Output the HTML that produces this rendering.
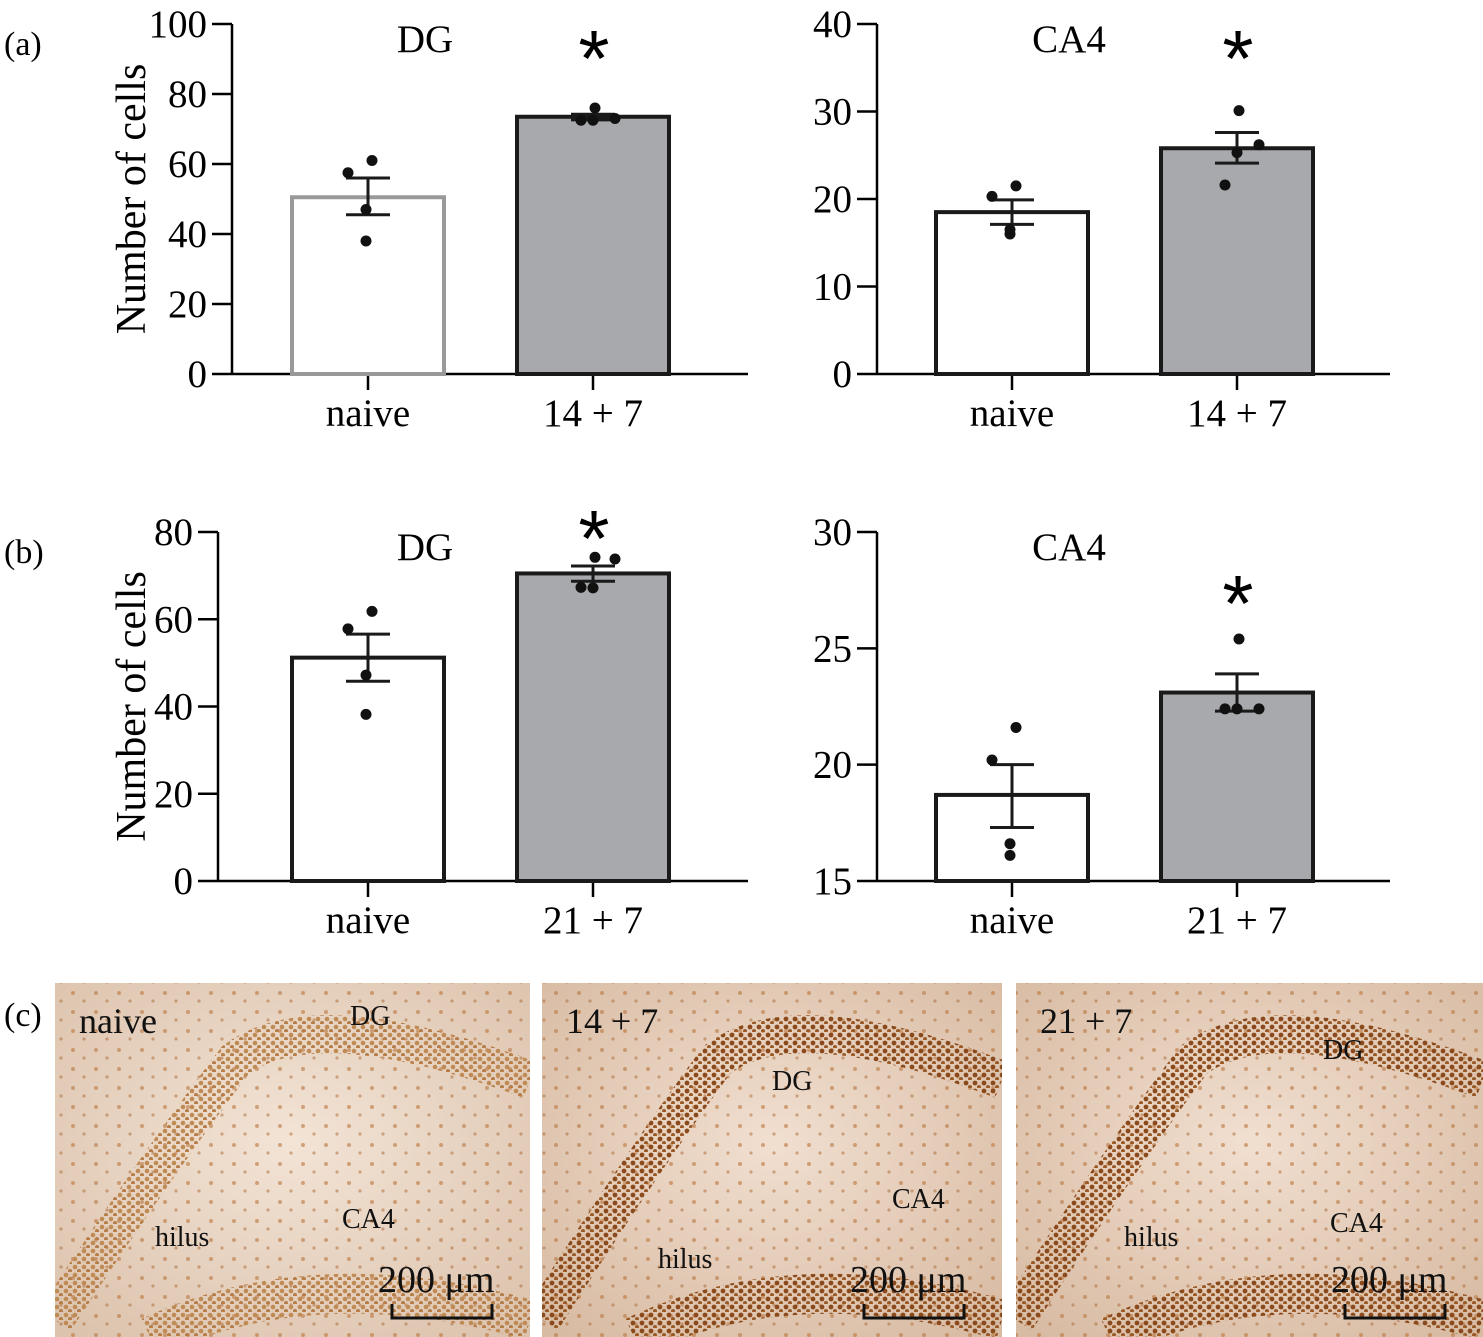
<!DOCTYPE html>
<html><head><meta charset="utf-8"><style>
body{margin:0;background:#fff;width:1483px;height:1337px;overflow:hidden;font-family:"Liberation Serif",serif}
svg{position:absolute;left:0;top:0}
</style></head><body>
<svg id="s" width="1483" height="1337" font-family="Liberation Serif, serif">
<defs>
<radialGradient id="bg1" cx="50%" cy="45%" r="70%"><stop offset="0" stop-color="#f3e4d6"/><stop offset="1" stop-color="#dcc3ad"/></radialGradient>
<radialGradient id="bg2" cx="50%" cy="45%" r="70%"><stop offset="0" stop-color="#f1dfd0"/><stop offset="1" stop-color="#d8bba3"/></radialGradient>
<pattern id="dots" width="23" height="19" patternUnits="userSpaceOnUse"><circle cx="4" cy="5" r="2" fill="#b9773f" opacity=".6"/><circle cx="15" cy="13" r="1.6" fill="#a86530" opacity=".5"/></pattern>
<pattern id="dots2" width="9" height="8" patternUnits="userSpaceOnUse"><circle cx="3" cy="3" r="2.4" fill="#8a4a1c"/><circle cx="7" cy="7" r="2" fill="#9a5a28"/></pattern>
<pattern id="dots3" width="9" height="8" patternUnits="userSpaceOnUse"><circle cx="3" cy="3" r="2.3" fill="#c08a55"/><circle cx="7" cy="7" r="2" fill="#b57d48"/></pattern>
</defs>
<text x="4" y="55" font-size="34">(a)</text>
<text x="4" y="563" font-size="34">(b)</text>
<text x="4" y="1026" font-size="34">(c)</text>
<g id="charts"></g>
<g id="photos"></g>
</svg>
<script>
// chart data
const categoriesA = ["naive","14 + 7"];
const categoriesB = ["naive","21 + 7"];
const meansADG = [50.5, 73.5];
const errLoADG = [45.5, 72.6];
const errHiADG = [56, 74.2];
const ptsADG = [[61,57.5,47,38],[76,73,72.5,72.5]];
const meansACA4 = [18.5, 25.8];
const errLoACA4 = [17.1, 24.1];
const errHiACA4 = [19.9, 27.6];
const ptsACA4 = [[21.5,20.3,16.5,16.0],[30.1,26.2,25.3,21.6]];
const meansBDG = [51.2, 70.5];
const errLoBDG = [45.8, 68.7];
const errHiBDG = [56.6, 72.2];
const ptsBDG = [[61.8,57.8,47.2,38.2],[74.2,73.8,67.2,67.3]];
const meansBCA4 = [18.7, 23.1];
const errLoBCA4 = [17.3, 22.3];
const errHiBCA4 = [20.0, 23.9];
const ptsBCA4 = [[21.6,20.2,16.6,16.1],[25.4,22.4,22.4,22.4]];
const ticksADG=[0,20,40,60,80,100], ticksACA4=[0,10,20,30,40], ticksBDG=[0,20,40,60,80], ticksBCA4=[15,20,25,30];

const NS="http://www.w3.org/2000/svg";
const root=document.getElementById('charts');
function mk(tag,attrs,parent){const e=document.createElementNS(NS,tag);for(const k in attrs)e.setAttribute(k,attrs[k]);(parent||root).appendChild(e);return e;}
const dxs=[[-8,-20,-2,-2],[-10,22,0,-12]];
function chart(o){
  const g=mk('g',{});
  
  
  const y=v=>o.y1-(v-o.min)/(o.max-o.min)*(o.y1-o.y0);
  mk('line',{x1:o.ax,y1:o.y0,x2:o.ax,y2:o.y1,stroke:'#000','stroke-width':2.5},g);
  mk('line',{x1:o.ax,y1:o.y1,x2:o.xend,y2:o.y1,stroke:'#000','stroke-width':2.5},g);
  o.ticks.forEach(t=>{
    mk('line',{x1:o.ax-20,y1:y(t),x2:o.ax,y2:y(t),stroke:'#000','stroke-width':2.5},g);
    const tx=mk('text',{x:o.ax-25,y:y(t)+13,'text-anchor':'end','font-size':39},g);tx.textContent=t;
    
    
  });
  o.cats.forEach((c,i)=>{
    const cx=o.c0+i*225;
    mk('line',{x1:cx,y1:o.y1,x2:cx,y2:o.y1+16,stroke:'#000','stroke-width':2.5},g);
    const tx=mk('text',{x:cx,y:o.y1+52,'text-anchor':'middle','font-size':39},g);tx.textContent=c;
    
    
    const b=mk('rect',{x:cx-76,y:y(o.means[i]),width:152,height:o.y1-y(o.means[i]),fill:i?'#a7a9ac':'#fff',stroke:(i==0&&o.grey)?'#999':'#1a1a1a','stroke-width':4},g);
    
    
    mk('line',{x1:cx,y1:y(o.lo[i]),x2:cx,y2:y(o.hi[i]),stroke:'#1a1a1a','stroke-width':3},g);
    [o.lo[i],o.hi[i]].forEach(v=>mk('line',{x1:cx-22,y1:y(v),x2:cx+22,y2:y(v),stroke:'#1a1a1a','stroke-width':3},g));
    o.pts[i].forEach((v,j)=>{const p=mk('circle',{cx:cx+dxs[i][j]+(j==0?12:0),cy:y(v),r:5.5,fill:'#111'},g);
      
      });
  });
  const t=mk('text',{x:o.c0+57,y:o.y0+28,'text-anchor':'middle','font-size':39},g);t.textContent=o.title;
  
  
  const a=mk('text',{x:o.c0+226,y:o.starY,'text-anchor':'middle','font-size':80,'font-family':'Liberation Sans, sans-serif'},g);a.textContent='*';
  
  
  if(o.ytitle){const yt=mk('text',{x:0,y:0,'font-size':42,'text-anchor':'middle',transform:`translate(145,${(o.y0+o.y1)/2}) rotate(-90)`},g);yt.textContent='Number of cells';
    
    }
}
chart({name:'chart-a-dg',ax:232,c0:368,xend:748,y0:24,y1:374,min:0,max:100,ticks:ticksADG,cats:categoriesA,means:meansADG,lo:errLoADG,hi:errHiADG,pts:ptsADG,title:'DG',starY:86,ytitle:1,grey:1});
chart({name:'chart-a-ca4',ax:877,c0:1012,xend:1390,y0:24,y1:374,min:0,max:40,ticks:ticksACA4,cats:categoriesA,means:meansACA4,lo:errLoACA4,hi:errHiACA4,pts:ptsACA4,title:'CA4',starY:86});
chart({name:'chart-b-dg',ax:218,c0:368,xend:748,y0:532,y1:881,min:0,max:80,ticks:ticksBDG,cats:categoriesB,means:meansBDG,lo:errLoBDG,hi:errHiBDG,pts:ptsBDG,title:'DG',starY:566,ytitle:1});
chart({name:'chart-b-ca4',ax:877,c0:1012,xend:1390,y0:532,y1:881,min:15,max:30,ticks:ticksBCA4,cats:categoriesB,means:meansBCA4,lo:errLoBCA4,hi:errHiBCA4,pts:ptsBCA4,title:'CA4',starY:631});

// photos
const ph=document.getElementById('photos');
const photos=[{x:55,w:475,lab:'naive',dg:[350,1025],ca4:[342,1228],hil:[155,1246],dens:'dots3',bg:'bg1'},
 {x:542,w:460,lab:'14 + 7',dg:[772,1090],ca4:[892,1208],hil:[658,1268],dens:'dots2',bg:'bg2'},
 {x:1016,w:467,lab:'21 + 7',dg:[1323,1059],ca4:[1330,1232],hil:[1124,1246],dens:'dots2',bg:'bg2'}];
photos.forEach((p,i)=>{
  const g=mk('g',{},ph);
  
  
  const cp=mk('clipPath',{id:'cp'+i},g);mk('rect',{x:p.x,y:983,width:p.w,height:354},cp);
  const gg=mk('g',{'clip-path':`url(#cp${i})`},g);
  mk('rect',{x:p.x,y:983,width:p.w,height:354,fill:`url(#${p.bg})`},gg);
  mk('rect',{x:p.x,y:983,width:p.w,height:354,fill:'url(#dots)'},gg);
  const x=p.x,w=p.w;
  const d=`M${x} ${1320} Q${x+w*0.22} ${1160} ${x+w*0.38} ${1060} Q${x+w*0.55} ${1000} ${x+w} ${1080}`;
  mk('path',{d,fill:'none',stroke:`url(#${p.dens})`,'stroke-width':38},gg);
  mk('path',{d:`M${x+w*0.2} 1337 Q${x+w*0.55} 1260 ${x+w} 1320`,fill:'none',stroke:`url(#${p.dens})`,'stroke-width':40},gg);
  const T=(tx,xx,yy,fs,nm)=>{const e=mk('text',{x:xx,y:yy,'font-size':fs,fill:'#111'},g);e.textContent=tx;
    return e;};
  T(p.lab,p.x+24,1033,36,'condition-label');
  T('DG',p.dg[0],p.dg[1],28,'dg-label');
  T('CA4',p.ca4[0],p.ca4[1],28,'ca4-label');
  T('hilus',p.hil[0],p.hil[1],28,'hilus-label');
  T('200 μm',p.x+w-152,1292,38,'scale-bar-label');
  mk('path',{d:`M${p.x+w-138} 1304 V1318 H${p.x+w-38} V1304`,fill:'none',stroke:'#111','stroke-width':3},g);
});
</script>
</body></html>
